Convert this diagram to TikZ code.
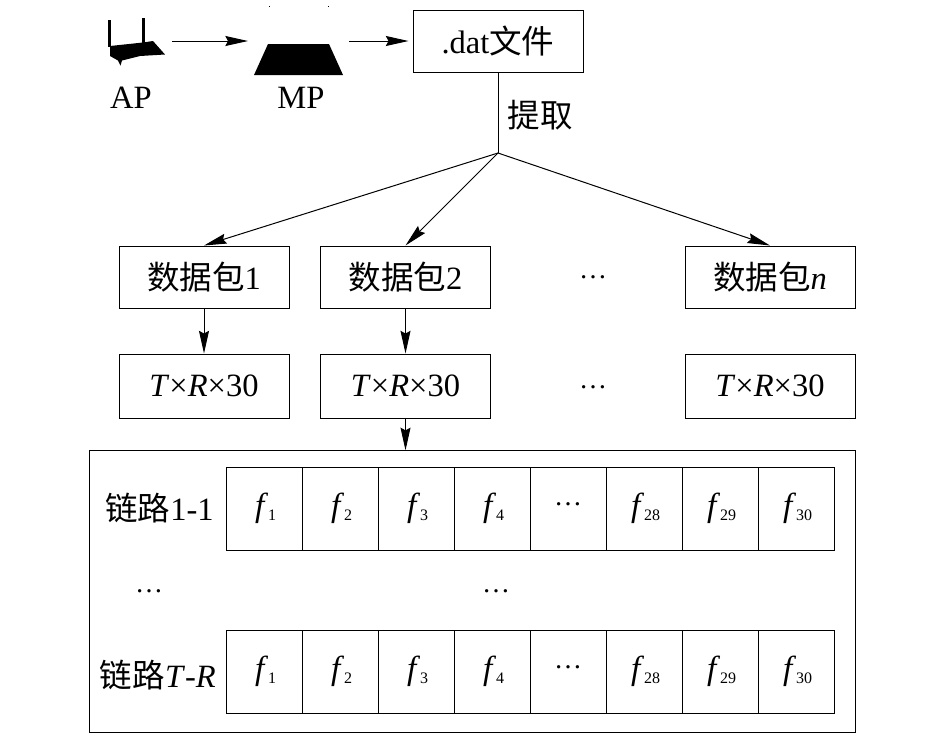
\documentclass[tikz,border=0pt]{standalone}
\usepackage{fontspec}
\setmainfont{Liberation Serif}
\newfontfamily\cjk{Noto Sans CJK SC}
\usetikzlibrary{arrows.meta}
\newcommand{\bigtxt}{\fontsize{24.4}{28}\selectfont}
\newcommand{\cellf}[1]{\hspace*{2.5pt}\raisebox{-1pt}{\fontsize{25}{28}\selectfont\textit{f}}\raisebox{-4pt}{\fontsize{12}{14}\selectfont #1}}
\tikzset{
  px/.style={x=0.75pt,y=-0.75pt},
  wire/.style={line width=0.75pt,black},
  flow/.style={wire,-{Stealth[length=17pt,width=7.5pt,inset=2pt]}},
  bigbox/.style={draw,line width=0.75pt,minimum width=127.5pt,inner sep=0pt,font=\bigtxt},
  pktbox/.style={bigbox,minimum height=46.5pt},
  dimbox/.style={bigbox,minimum height=48pt},
  cellbox/.style={draw,line width=0.75pt,minimum width=57pt,minimum height=62.25pt,inner sep=0pt},
  lbl/.style={inner sep=0pt,font=\bigtxt},
  dotsl/.style={inner sep=0pt,font=\fontsize{21}{24}\selectfont},
  icon/.style={fill=black,draw=none}
}
\begin{document}
\begin{tikzpicture}[px]
\useasboundingbox (0,0) rectangle (944,733);
% icons
\fill[icon] (107.5,20) rectangle (110.5,47);
\fill[icon] (141.5,18) rectangle (144.5,43);
\fill[icon] (110,46) -- (143,42.5) -- (153,41) -- (165,54.5) -- (140,56) -- (122,60.5) -- (120.5,65.5) -- (118,60.5) -- (110,56) -- cycle;
\fill[icon] (268,44) -- (329,44) -- (343,75) -- (254,75) -- cycle;
\fill[icon] (268.5,5.5) rectangle (270,7);
\fill[icon] (327.5,5.5) rectangle (329,7);
\node[lbl] (ap) at (131,98) {AP};
\node[lbl] (mp) at (301,98) {MP};
\coordinate (apout) at (172,41);
\coordinate (mpin) at (248,41);
\coordinate (mpout) at (349,41);
% top
\node[bigbox,minimum height=46.5pt] (dat) at (498,41) {.dat{\cjk 文件}};
\coordinate (junc) at (498,153);
\node[lbl] (ext) at (540,115) {\cjk 提取};
\draw[flow] (apout) -- (mpin);
\draw[flow,shorten >=3pt] (mpout) -- (dat.west);
\draw[wire] (dat.south) -- (junc);
% packets
\node[pktbox] (p1) at (204,277) {\raisebox{-1.5pt}{{\cjk 数据包}1}};
\node[pktbox] (p2) at (405.5,277) {\raisebox{-1.5pt}{{\cjk 数据包}2}};
\node[pktbox] (pn) at (770,277) {\raisebox{-1.5pt}{{\cjk 数据包}\textit{n}}};
\node[dotsl] (d1) at (593,277) {…};
\draw[flow] (junc) -- (p1.north);
\draw[flow] (junc) -- (p2.north);
\draw[flow] (junc) -- (pn.north);
% dims
\node[dimbox] (t1) at (204,386) {\textit{T}×\textit{R}×30};
\node[dimbox] (t2) at (405.5,386) {\textit{T}×\textit{R}×30};
\node[dimbox] (tn) at (770,386) {\textit{T}×\textit{R}×30};
\node[dotsl] (d2) at (593,387) {…};
\draw[flow] (p1) -- (t1);
\draw[flow] (p2) -- (t2);
% outer
\node[draw,line width=0.75pt,minimum width=574.5pt,minimum height=211pt,inner sep=0pt] (outer) at (472,591.5) {};
\draw[flow] (t2.south) -- (t2.south |- outer.north);
% rows
\foreach \r/\y in {a/508.5,b/671.5}{
  \foreach \i/\lab/\x in {1/1/264,2/2/340,3/3/416,4/4/492,6/28/644,7/29/720,8/30/796}{
    \node[cellbox] (\r\i) at (\x,\y) {\cellf{\lab}};
  }
  \node[cellbox,font=\fontsize{21}{24}\selectfont] (\r5) at (568,\y) {\raisebox{6pt}{…}};
}
\node[lbl,anchor=east] (la) at (214,508) {{\cjk 链路}1-1};
\node[lbl,anchor=east] (lb) at (216,675) {{\cjk 链路}\textit{T}-\textit{R}};
\node[dotsl] (d3) at (149,591) {…};
\node[dotsl] (d4) at (496,591) {…};
\end{tikzpicture}
\end{document}
